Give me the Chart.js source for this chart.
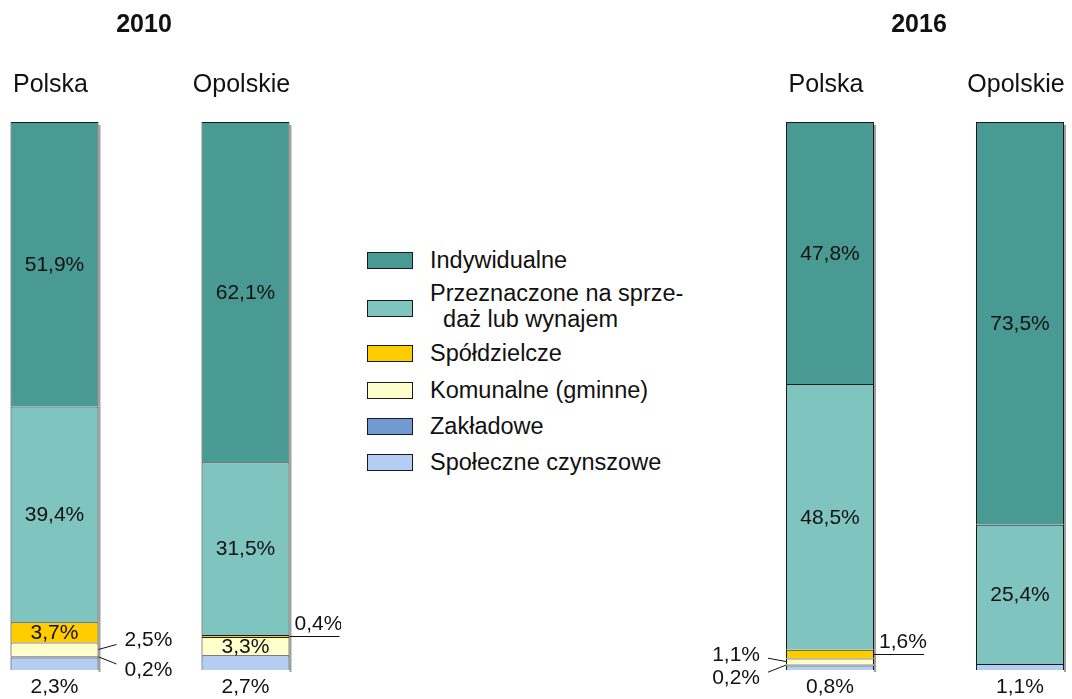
<!DOCTYPE html>
<html lang="pl">
<head>
<meta charset="utf-8">
<script src="https://cdn.jsdelivr.net/npm/chart.js@4.4.1/dist/chart.umd.min.js"></script>
<style>
  html, body { margin: 0; padding: 0; background: #fff; overflow: hidden; }
  body { width: 1072px; height: 699px; position: relative; font-family: Arial, "Liberation Sans", sans-serif; }
  canvas { position: absolute; top: 0; }
  #c2010 { left: -41.5px; }
  #c2016 { left: 695px; }
  #legend { position: absolute; left: 367px; top: 0; }
  .row { position: absolute; left: 0; white-space: nowrap; }
  .box { position: absolute; left: 0; width: 44px; height: 15px; border: 1px solid #1a1a1a; }
  .txt { position: absolute; left: 63px; font-size: 23.5px; line-height: 26px; color: #111; white-space: pre; }
</style>
</head>
<body>
<canvas id="c2010" width="382" height="699"></canvas>
<canvas id="c2016" width="420" height="699"></canvas>
<div id="legend"></div>
<script>
// Struktura mieszkań oddanych do użytkowania według form budownictwa (%)
const regions = ['Polska', 'Opolskie'];
const seriesNames = ['Społeczne czynszowe', 'Zakładowe', 'Komunalne (gminne)', 'Spółdzielcze',
  'Przeznaczone na sprzedaż lub wynajem', 'Indywidualne'];
const seriesColors = ['#b4cdf2', '#7399d1', '#ffffcc', '#ffcc00', '#80c4c0', '#4a9a94'];

// wartości 2010: [Polska, Opolskie]
const spoleczne2010 = [2.3, 2.7];
const zakladowe2010 = [0.2, null];
const komunalne2010 = [2.5, 3.3];
const spoldzielcze2010 = [3.7, 0.4];
const przeznaczone2010 = [39.4, 31.5];
const indywidualne2010 = [51.9, 62.1];

// wartości 2016: [Polska, Opolskie]
const spoleczne2016 = [0.8, 1.1];
const zakladowe2016 = [0.2, null];
const komunalne2016 = [1.1, null];
const spoldzielcze2016 = [1.6, null];
const przeznaczone2016 = [48.5, 25.4];
const indywidualne2016 = [47.8, 73.5];

const legendLines = [['Indywidualne'], ['Przeznaczone na sprze-', '  daż lub wynajem'], ['Spółdzielcze'],
  ['Komunalne (gminne)'], ['Zakładowe'], ['Społeczne czynszowe']];

const FONT = 'Arial, "Liberation Sans", sans-serif';
const fmt = v => v.toFixed(1).replace('.', ',') + '%';

// legenda (kolejność od góry)
const legendTop = [252, 300, 345, 382, 418, 454];
const legendEl = document.getElementById('legend');
legendLines.forEach((lines, k) => {
  const si = seriesNames.length - 1 - k;
  const row = document.createElement('div');
  row.className = 'row';
  row.style.top = legendTop[k] + 'px';
  const box = document.createElement('div');
  box.className = 'box';
  box.style.background = seriesColors[si];
  row.appendChild(box);
  const txt = document.createElement('div');
  txt.className = 'txt';
  txt.style.top = (lines.length > 1 ? -20 : -5) + 'px';
  txt.textContent = lines.join('\n');
  row.appendChild(txt);
  legendEl.appendChild(row);
});

// opisy wartości: domyślnie w środku słupka; małe udziały z odnośnikiem
// place: 'in' | 'below' | {side, dy} | {line:'flat'}
function makeLabelPlugin(year, placement) {
  return {
    id: 'labels' + year,
    beforeDatasetsDraw(chart) {
      // cień po prawej stronie słupka
      const ctx = chart.ctx;
      const y = chart.scales.y;
      const first = chart.getDatasetMeta(0).data;
      ctx.save();
      ctx.fillStyle = '#a0a0a0';
      first.forEach(bar => {
        const r = bar.x + bar.width / 2;
        ctx.fillRect(r, y.getPixelForValue(100) + 3, 2, y.getPixelForValue(0) - y.getPixelForValue(100) - 1);
      });
      ctx.restore();
    },
    afterDatasetsDraw(chart) {
      const ctx = chart.ctx;
      const xs = chart.scales.x;
      const ys = chart.scales.y;
      ctx.save();
      ctx.fillStyle = '#111';
      ctx.strokeStyle = '#111';
      ctx.lineWidth = 1;

      // tytuł roku
      ctx.font = 'bold 25px ' + FONT;
      ctx.textAlign = 'center';
      ctx.textBaseline = 'alphabetic';
      const mid = (xs.getPixelForValue(0) + xs.getPixelForValue(1)) / 2;
      ctx.fillText(String(year), mid - 6, 32);

      // nazwy obszarów
      ctx.font = '25px ' + FONT;
      regions.forEach((r, i) => ctx.fillText(r, xs.getPixelForValue(i) - 4, 92));

      ctx.font = '21px ' + FONT;
      chart.data.datasets.forEach((ds, di) => {
        const meta = chart.getDatasetMeta(di);
        meta.data.forEach((bar, i) => {
          const v = ds.data[i];
          if (v == null) return;
          const place = (placement[i] && placement[i][di]) || (di === 0 ? 'below' : 'in');
          const cy = (bar.y + bar.base) / 2;
          const left = bar.x - bar.width / 2;
          const right = bar.x + bar.width / 2;
          if (place === 'in') {
            ctx.textAlign = 'center';
            ctx.textBaseline = 'middle';
            ctx.fillText(fmt(v), bar.x, cy + 1);
          } else if (place === 'below') {
            ctx.textAlign = 'center';
            ctx.textBaseline = 'middle';
            ctx.fillText(fmt(v), bar.x, ys.getPixelForValue(0) + 17);
          } else if (place.line === 'flat') {
            ctx.beginPath();
            ctx.moveTo(right, Math.round(cy) + 0.5);
            ctx.lineTo(right + 50, Math.round(cy) + 0.5);
            ctx.stroke();
            ctx.textAlign = 'left';
            ctx.textBaseline = 'middle';
            ctx.fillText(fmt(v), right + 5, cy - 12);
          } else {
            const s = place.side === 'right' ? 1 : -1;
            const x0 = s > 0 ? right : left;
            ctx.beginPath();
            ctx.moveTo(x0, cy);
            ctx.lineTo(x0 + s * 18, cy + place.dy * 0.55);
            ctx.stroke();
            ctx.textAlign = s > 0 ? 'left' : 'right';
            ctx.textBaseline = 'middle';
            ctx.fillText(fmt(v), x0 + s * 26, cy + place.dy);
          }
        });
      });
      ctx.restore();
    }
  };
}

function makeChart(id, year, values, placement, padLeft) {
  const canvas = document.getElementById(id);
  const catWidth = (canvas.width - padLeft) / regions.length;
  const datasets = values.map((vals, si) => ({
    label: seriesNames[si],
    data: vals,
    backgroundColor: seriesColors[si],
    borderColor: '#1a1a1a',
    borderWidth: 1,
    barPercentage: 1,
    categoryPercentage: 88 / catWidth
  }));
  return new Chart(canvas, {
    type: 'bar',
    data: { labels: regions, datasets },
    options: {
      responsive: false,
      animation: false,
      devicePixelRatio: 1,
      layout: { padding: { top: 122, bottom: 29, left: padLeft, right: 0 } },
      plugins: { legend: { display: false }, tooltip: { enabled: false } },
      scales: {
        x: { stacked: true, display: false },
        y: { stacked: true, display: false, min: 0, max: 100 }
      }
    },
    plugins: [makeLabelPlugin(year, placement)]
  });
}

// indeksy serii: 0 społeczne, 1 zakładowe, 2 komunalne, 3 spółdzielcze
makeChart('c2010', 2010,
  [spoleczne2010, zakladowe2010, komunalne2010, spoldzielcze2010, przeznaczone2010, indywidualne2010],
  [
    { 1: { side: 'right', dy: 13 }, 2: { side: 'right', dy: -9 } },
    { 3: { line: 'flat' } }
  ], 0);

makeChart('c2016', 2016,
  [spoleczne2016, zakladowe2016, komunalne2016, spoldzielcze2016, przeznaczone2016, indywidualne2016],
  [
    { 1: { side: 'left', dy: 13 }, 2: { side: 'left', dy: -6 }, 3: { line: 'flat' } },
    {}
  ], 40);
</script>
</body>
</html>
